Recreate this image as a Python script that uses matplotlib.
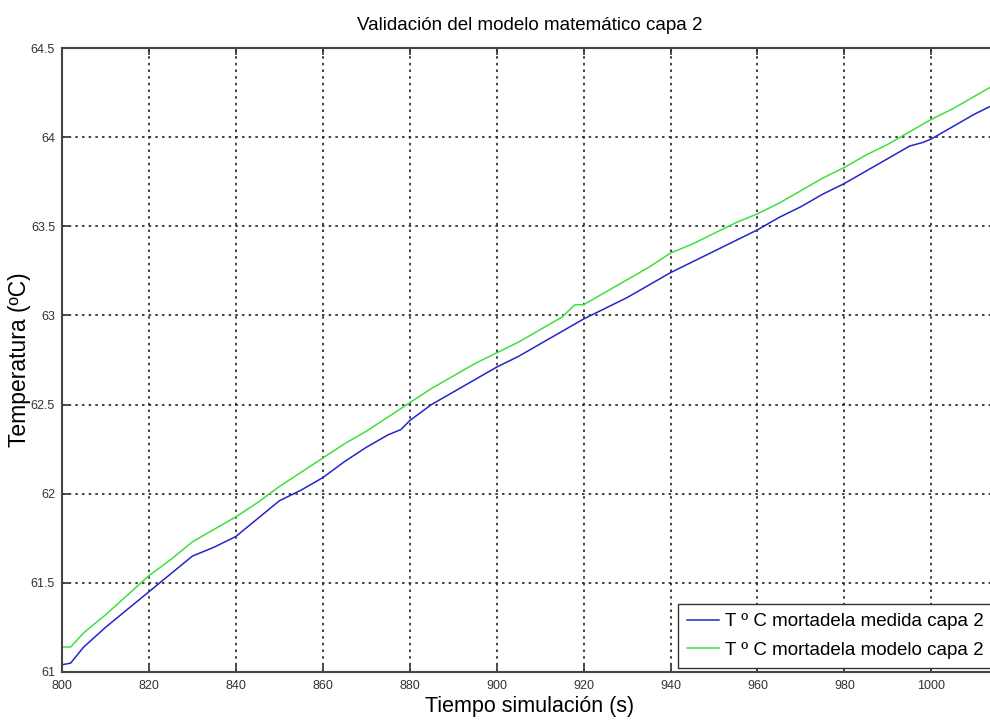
import numpy as np
import matplotlib
matplotlib.use("Agg")
import matplotlib.pyplot as plt

plt.rcParams['font.family'] = ['Liberation Sans', 'DejaVu Sans']

# valores (tiempo en s, temperatura en ºC)
t_medida = [800, 802, 805, 810, 815, 820, 825, 830, 835, 840, 845, 850, 855, 860,
            865, 870, 875, 878, 880, 885, 890, 895, 900, 905, 910, 915, 920, 925,
            930, 935, 940, 945, 950, 955, 960, 965, 970, 975, 980, 985, 990, 995,
            998, 1000, 1005, 1010, 1015]
T_medida = [61.04, 61.05, 61.14, 61.25, 61.35, 61.45, 61.55, 61.65, 61.70, 61.76,
            61.86, 61.96, 62.02, 62.09, 62.18, 62.26, 62.33, 62.36, 62.41, 62.50,
            62.57, 62.64, 62.71, 62.77, 62.84, 62.91, 62.98, 63.04, 63.10, 63.17,
            63.24, 63.30, 63.36, 63.42, 63.48, 63.55, 63.61, 63.68, 63.74, 63.81,
            63.88, 63.95, 63.97, 63.99, 64.06, 64.13, 64.19]

t_modelo = [800, 802, 805, 810, 815, 820, 825, 830, 835, 840, 845, 850, 855, 860,
            865, 870, 875, 880, 885, 890, 895, 900, 905, 910, 915, 918, 920, 925,
            930, 935, 940, 945, 950, 955, 960, 965, 970, 975, 980, 985, 990, 995,
            1000, 1005, 1010, 1015]
T_modelo = [61.14, 61.14, 61.22, 61.32, 61.43, 61.54, 61.63, 61.73, 61.80, 61.87,
            61.95, 62.04, 62.12, 62.20, 62.28, 62.35, 62.43, 62.51, 62.59, 62.66,
            62.73, 62.79, 62.85, 62.92, 62.99, 63.06, 63.06, 63.13, 63.20, 63.27,
            63.35, 63.40, 63.46, 63.52, 63.57, 63.63, 63.70, 63.77, 63.83, 63.90,
            63.96, 64.03, 64.10, 64.16, 64.23, 64.30]

xticks = [800, 820, 840, 860, 880, 900, 920, 940, 960, 980, 1000]
yticks = [61, 61.5, 62, 62.5, 63, 63.5, 64, 64.5]
ytick_labels = ['61', '61.5', '62', '62.5', '63', '63.5', '64', '64.5']

fig = plt.figure(figsize=(9.9, 7.21), dpi=100)
ax = fig.add_axes([0.0626, 0.068, 0.944, 0.8654])

ax.plot(t_medida, T_medida, color='#2525c8', lw=1.1, label='T º C mortadela medida capa 2')
ax.plot(t_modelo, T_modelo, color='#3ee03e', lw=1.1, label='T º C mortadela modelo capa 2')

ax.set_xlim(800, 1015)
ax.set_ylim(61, 64.5)
ax.set_xticks(xticks)
ax.set_yticks(yticks)
ax.set_yticklabels(ytick_labels)
ax.tick_params(direction='in', length=5, width=1.2, colors='#333333',
               labelsize=9, top=True)
ax.tick_params(axis='x', pad=6)
ax.tick_params(axis='y', pad=5)
for s in ax.spines.values():
    s.set_color('#444444')
    s.set_linewidth(1.5)

ax.grid(True, color='#222222', linestyle=(0, (1.5, 2.5)), linewidth=1.2)

ax.set_title('Validación del modelo matemático capa 2', fontsize=13.5, pad=13)
ax.set_xlabel('Tiempo simulación (s)', fontsize=15.5, labelpad=3)
ax.set_ylabel('Temperatura (ºC)', fontsize=16.5, labelpad=0)

leg = ax.legend(loc='lower right', fontsize=13.5, handlelength=1.7, handletextpad=0.3,
                borderaxespad=0.2, fancybox=False, framealpha=1, borderpad=0.5,
                labelspacing=0.6)
leg.get_frame().set_edgecolor('#333333')
leg.get_frame().set_linewidth(1.0)

fig.savefig('out.png', dpi=100)
